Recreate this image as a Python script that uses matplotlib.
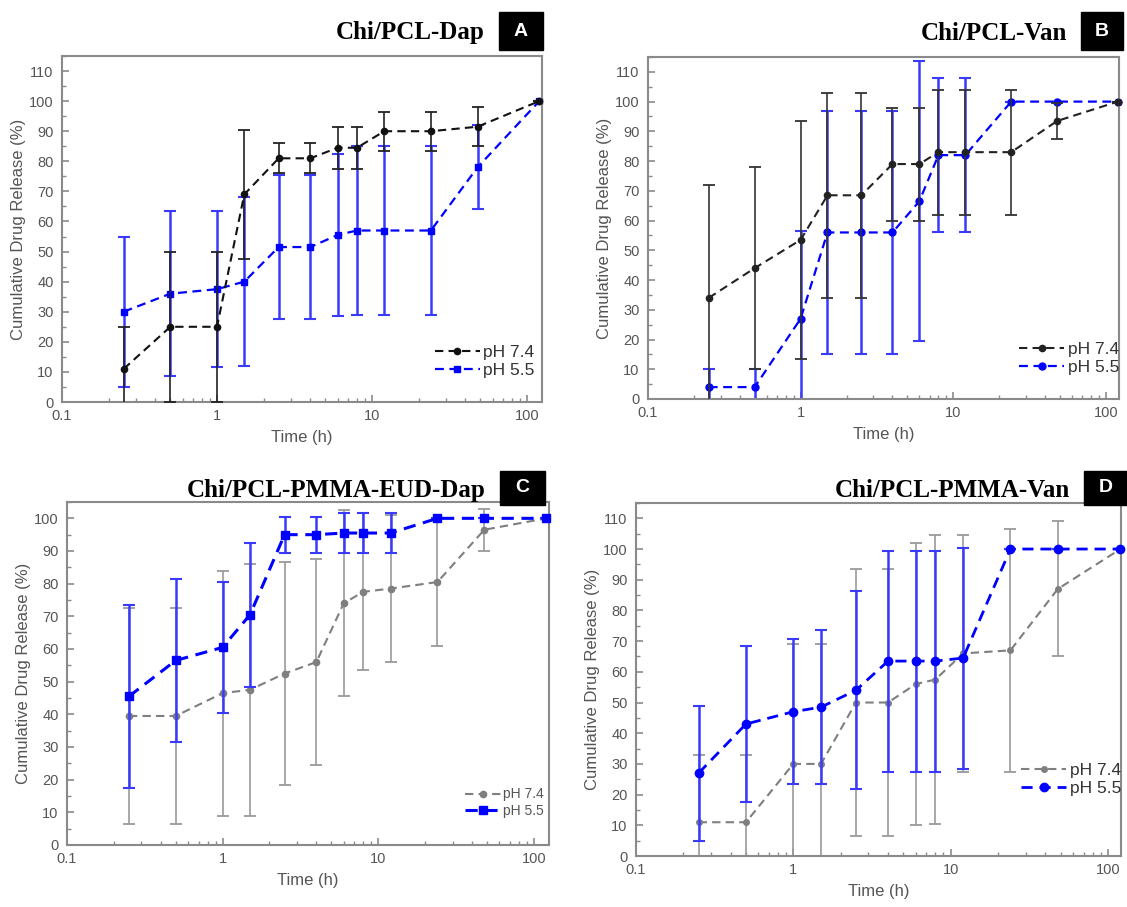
import numpy as np
import matplotlib
matplotlib.use('Agg')
import matplotlib.pyplot as plt
from matplotlib.patches import Rectangle
from matplotlib.lines import Line2D
from matplotlib.ticker import FixedLocator, MultipleLocator, LogLocator, NullFormatter, FuncFormatter

plt.rcParams['font.family'] = ['Liberation Sans', 'DejaVu Sans']

# sampling times (h)
times = [0.25, 0.5, 1, 1.5, 2.5, 4, 6, 8, 12, 24, 48, 120]

# A: Chi/PCL-Dap
A_ph74 = [11, 25, 25, 69, 81, 81, 84.5, 84.5, 90, 90, 91.5, 100]
A_ph74_err = [14, 25, 25, 21.5, 5, 5, 7, 7, 6.5, 6.5, 6.5, 0]
A_ph55 = [30, 36, 37.5, 40, 51.5, 51.5, 55.5, 57, 57, 57, 78, 100]
A_ph55_err = [25, 27.5, 26, 28, 24, 24, 27, 28, 28, 28, 14, 0]

# B: Chi/PCL-Van
B_ph74 = [34, 44, 53.5, 68.5, 68.5, 79, 79, 83, 83, 83, 93.5, 100]
B_ph74_err = [38, 34, 40, 34.5, 34.5, 19, 19, 21, 21, 21, 6, 0]
B_ph55 = [4, 4, 27, 56, 56, 56, 66.5, 82, 82, 100, 100, 100]
B_ph55_err = [6, 6, 29.5, 41, 41, 41, 47, 26, 26, 0, 0, 0]

# C: Chi/PCL-PMMA-EUD-Dap
C_ph74 = [39.5, 39.5, 46.5, 47.5, 52.5, 56, 74, 77.5, 78.5, 80.5, 96.5, 100]
C_ph74_err = [33, 33, 37.5, 38.5, 34, 31.5, 28.5, 24, 22.5, 19.5, 6.5, 0]
C_ph55 = [45.5, 56.5, 60.5, 70.5, 95, 95, 95.5, 95.5, 95.5, 100, 100, 100]
C_ph55_err = [28, 25, 20, 22, 5.5, 5.5, 6, 6, 6, 0, 0, 0]

# D: Chi/PCL-PMMA-Van
D_ph74 = [11, 11, 30, 30, 50, 50, 56, 57.5, 66, 67, 87, 100]
D_ph74_err = [22, 22, 39, 39, 43.5, 43.5, 46, 47, 38.5, 39.5, 22, 0]
D_ph55 = [27, 43, 47, 48.5, 54, 63.5, 63.5, 63.5, 64.5, 100, 100, 100]
D_ph55_err = [22, 25.5, 23.7, 25, 32.3, 36, 36, 36, 36, 0, 0, 0]

titles = ['Chi/PCL-Dap', 'Chi/PCL-Van', 'Chi/PCL-PMMA-EUD-Dap', 'Chi/PCL-PMMA-Van']
letters = ['A', 'B', 'C', 'D']
legend_labels = ['pH 7.4', 'pH 5.5']

W, H = 1127, 907
fig = plt.figure(figsize=(W / 100, H / 100), dpi=100)

def px_rect(l, t, r, b):
    return [l / W, 1 - b / H, (r - l) / W, (b - t) / H]

TXT = '#555555'
SPINE = '#8a8a8a'
BLUE = '#0000ff'
DASH = (0, (4, 2.5))

panels = [
    dict(rect=(62, 56, 542, 402), ymax=115, xmax=125, d74=(A_ph74, A_ph74_err), d55=(A_ph55, A_ph55_err),
         c74='#111111', e74='#222222', m74='o', ms74=4.5, m55='s', ms55=4.5, lw55=1.6,
         z74=3, leg=(0.985, 0.07), fs=12.5,
         box=(499, 12, 543, 50), tcy=32),
    dict(rect=(648, 57, 1119, 399), ymax=115, xmax=122, d74=(B_ph74, B_ph74_err), d55=(B_ph55, B_ph55_err),
         c74='#222222', e74='#333333', m74='o', ms74=4.5, m55='o', ms55=5, lw55=1.6,
         z74=3, leg=(1.0, 0.07), fs=12.5,
         box=(1081, 12, 1123, 50), tcy=33),
    dict(rect=(67, 502, 549, 845), ymax=105, xmax=125, d74=(C_ph74, C_ph74_err), d55=(C_ph55, C_ph55_err),
         c74='#7f7f7f', e74='#9a9a9a', m74='o', ms74=4.5, m55='s', ms55=6, lw55=2.2,
         z74=2, leg=(0.99, 0.08), fs=10,
         box=(500, 471, 545, 505), tcy=490),
    dict(rect=(636, 503, 1121, 856), ymax=115, xmax=121, d74=(D_ph74, D_ph74_err), d55=(D_ph55, D_ph55_err),
         c74='#7f7f7f', e74='#9a9a9a', m74='o', ms74=4, m55='o', ms55=6, lw55=2.0,
         z74=2, leg=(1.0, 0.17), fs=12.5,
         box=(1084, 471, 1127, 505), tcy=490),
]

for i, p in enumerate(panels):
    ax = fig.add_axes(px_rect(*p['rect']))
    y74, e74 = p['d74']
    y55, e55 = p['d55']
    z55 = 5 - p['z74']
    ax.errorbar(times, y74, yerr=e74, color=p['c74'], ecolor=p['e74'], elinewidth=1.2, capsize=4,
                capthick=1.3, ls=DASH, lw=1.5, marker=p['m74'], ms=p['ms74'],
                zorder=p['z74'], clip_on=False)
    ax.errorbar(times, y55, yerr=e55, color=BLUE, ecolor='#3a3aff', elinewidth=1.8, capsize=4,
                capthick=1.5, ls=DASH, lw=p['lw55'], marker=p['m55'], ms=p['ms55'],
                zorder=z55, clip_on=False)
    # bars are cut at the axis floor, the end markers are not
    for coll in ax.collections:
        coll.set_clip_on(True)
    for ln in ax.lines:
        if ln.get_marker() == '_':
            ln.set_clip_on(True)

    ax.set_xscale('log')
    ax.set_xlim(0.1, p['xmax'])
    ax.set_ylim(0, p['ymax'])
    ax.xaxis.set_major_locator(FixedLocator([0.1, 1, 10, 100]))
    ax.xaxis.set_major_formatter(FuncFormatter(lambda v, pos: '%g' % v))
    ax.xaxis.set_minor_locator(LogLocator(base=10, subs=np.arange(2, 10)))
    ax.xaxis.set_minor_formatter(NullFormatter())
    ax.yaxis.set_major_locator(MultipleLocator(10))
    ax.yaxis.set_minor_locator(MultipleLocator(5))
    ax.tick_params(which='both', direction='in', colors=SPINE, labelcolor=TXT, labelsize=10.5,
                   top=False, right=False)
    ax.tick_params(which='major', length=5, width=1.2)
    ax.tick_params(which='minor', length=3, width=1.0)
    ax.tick_params(axis='x', pad=5)
    ax.tick_params(axis='y', pad=6)
    for s in ax.spines.values():
        s.set_color(SPINE)
        s.set_linewidth(1.5)
    ax.set_xlabel('Time (h)', fontsize=12, color=TXT, labelpad=5)
    ax.set_ylabel('Cumulative Drug Release (%)', fontsize=12, color=TXT, labelpad=2)

    handles = [
        Line2D([], [], color=p['c74'], ls=DASH, lw=1.5, marker=p['m74'], ms=p['ms74']),
        Line2D([], [], color=BLUE, ls=DASH, lw=p['lw55'], marker=p['m55'], ms=p['ms55']),
    ]
    leg = ax.legend(handles, legend_labels, loc='lower right', bbox_to_anchor=p['leg'], frameon=False,
                    fontsize=p['fs'], handlelength=2.6, handletextpad=0.2, labelspacing=0.15,
                    borderpad=0, borderaxespad=0)
    for t in leg.get_texts():
        t.set_color('#333333' if p['fs'] > 11 else TXT)

    # title and letter box
    bl, bt, br, bb = p['box']
    fig.add_artist(Rectangle((bl / W, 1 - bb / H), (br - bl) / W, (bb - bt) / H,
                             transform=fig.transFigure, color='black', zorder=10))
    fig.text((bl + br) / 2 / W, 1 - (bt + bb) / 2 / H, letters[i], color='white', fontsize=14,
             fontweight='bold', ha='center', va='center', zorder=11)
    fig.text((bl - 14) / W, 1 - p['tcy'] / H, titles[i], fontsize=18, fontweight='bold',
             family=['Liberation Serif', 'DejaVu Serif'], ha='right', va='center', color='black')

fig.savefig('out.png', dpi=100)
